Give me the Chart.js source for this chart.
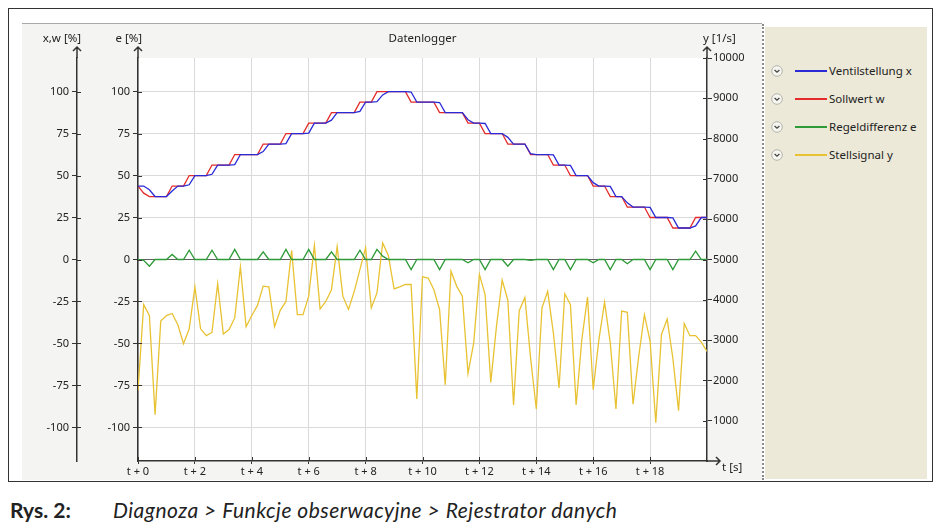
<!DOCTYPE html>
<html>
<head>
<meta charset="utf-8">
<script src="https://cdn.jsdelivr.net/npm/chart.js@4.4.1/dist/chart.umd.min.js"></script>
<style>
  body { margin:0; width:938px; height:527px; background:#fff; position:relative; overflow:hidden; font-family:"Noto Sans", sans-serif; }
  #frame { position:absolute; left:8px; top:8px; width:925px; height:474px; box-sizing:border-box; border:1px solid #333; }
  #panel { position:absolute; left:22px; top:23px; width:740px; height:457px; box-sizing:border-box; border-top:1px solid #a8a8a8; background:#f4f4f3; }
  #panel canvas { position:absolute; left:0; top:0; }
  #sep { position:absolute; left:762px; top:24px; width:0; height:456px; border-left:2px dotted #8a8a8a; }
  #legend { position:absolute; left:765px; top:27px; width:162px; height:452px; background:#ece9d8; }
  .row { position:absolute; left:0; height:16px; width:162px; }
  .row svg { position:absolute; left:6px; top:2px; }
  .row .sw { position:absolute; left:30px; top:7px; width:32px; height:2px; }
  .row .lbl { position:absolute; left:64px; top:0; font-size:11.5px; line-height:16px; color:#222; white-space:nowrap; }
  #cap1 { position:absolute; left:10px; top:497px; font-family:Lato, "Noto Sans", sans-serif; font-weight:bold; font-size:21px; color:#222; }
  #cap2 { position:absolute; left:113px; top:497px; font-family:Lato, "Noto Sans", sans-serif; font-style:italic; font-size:21px; letter-spacing:0.5px; color:#222; }
</style>
</head>
<body>
<div id="frame"></div>
<div id="panel"><canvas id="logger" width="740" height="456"></canvas></div>
<div id="sep"></div>
<div id="legend"></div>
<div id="cap1">Rys. 2:</div>
<div id="cap2">Diagnoza &gt; Funkcje obserwacyjne &gt; Rejestrator danych</div>
<script>
// logger samples every 0.2 s, t = 0 ... 20 s
var sampleStep = 0.2;

var timeTicks = [0, 2, 4, 6, 8, 10, 12, 14, 16, 18];
var percentTicks = [-100, -75, -50, -25, 0, 25, 50, 75, 100];
var speedTicks = [1000, 2000, 3000, 4000, 5000, 6000, 7000, 8000, 9000, 10000];

var ventilstellungX = [
  43.75, 43.75, 41.5, 37.5, 37.5, 37.5, 40.75, 43.75, 43.75, 44.5,
  50, 50, 50, 50.75, 56.25, 56.25, 56.25, 56.5, 62.5, 62.5,
  62.5, 62.5, 64.25, 68.75, 68.75, 68.75, 69, 75, 75, 75,
  75.25, 81.25, 81.25, 81.25, 83, 87.5, 87.5, 87.5, 87.5, 88.25,
  93.75, 93.75, 94, 98, 100, 100, 100, 100, 99.75, 93.75,
  93.75, 93.75, 93.75, 93.5, 87.5, 87.5, 87.5, 87.5, 83.25, 81.25,
  81.25, 81, 75, 75, 75, 72.75, 68.75, 68.75, 68.75, 63,
  62.5, 62.5, 62.5, 62.25, 56.25, 56.25, 56, 50, 50, 50,
  45.75, 43.75, 43.75, 43.5, 37.5, 37.5, 33.75, 31.25, 31.25, 31.25,
  31, 25, 25, 25, 24.75, 18.75, 18.75, 18.75, 20, 25,
  25
];

var sollwertW = [
  43.75, 39.5, 37.5, 37.5, 37.5, 37.5, 43.75, 43.75, 43.75, 50,
  50, 50, 50, 56.25, 56.25, 56.25, 56.25, 62.5, 62.5, 62.5,
  62.5, 62.5, 68.75, 68.75, 68.75, 68.75, 75, 75, 75, 75,
  81.25, 81.25, 81.25, 81.25, 87.5, 87.5, 87.5, 87.5, 87.5, 93.75,
  93.75, 93.75, 100, 100, 100, 100, 100, 100, 93.75, 93.75,
  93.75, 93.75, 93.75, 87.5, 87.5, 87.5, 87.5, 87.5, 81.25, 81.25,
  81.25, 75, 75, 75, 75, 68.75, 68.75, 68.75, 68.75, 62.5,
  62.5, 62.5, 62.5, 56.25, 56.25, 56.25, 50, 50, 50, 50,
  43.75, 43.75, 43.75, 37.5, 37.5, 37.5, 31.25, 31.25, 31.25, 31.25,
  25, 25, 25, 25, 18.75, 18.75, 18.75, 18.75, 25, 25,
  25
];

var regeldifferenzE = [
  0, -0.5, -4, 0, 0, 0, 3, 0, 0, 5.5,
  0, 0, 0, 5.5, 0, 0, 0, 6, 0, 0,
  0, 0, 4.5, 0, 0, 0, 6, 0, 0, 0,
  6, 0, 0, 0, 4.5, 0, 0, 0, 0, 5.5,
  0, 0, 6, 2, 0, 0, 0, 0, -6, 0,
  0, 0, 0, -6, 0, 0, 0, 0, -2, 0,
  0, -6, 0, 0, 0, -4, 0, 0, 0, -0.5,
  0, 0, 0, -6, 0, 0, -6, 0, 0, 0,
  -2, 0, 0, -6, 0, 0, -2.5, 0, 0, 0,
  -6, 0, 0, 0, -6, 0, 0, 0, 5, 0,
  0
];

var stellsignalY = [
  1750, 3880, 3610, 1150, 3470, 3610, 3660, 3380, 2910, 3280,
  4320, 3280, 3110, 3190, 4400, 3150, 3260, 3550, 4820, 3330,
  3610, 3860, 4340, 4320, 3330, 3740, 3960, 5230, 3630, 3630,
  4090, 5350, 3770, 3960, 4250, 5320, 4090, 3760, 4210, 4750,
  5290, 3800, 4170, 5410, 5100, 4270, 4320, 4380, 4380, 1540,
  4570, 4540, 4250, 3760, 1890, 4710, 4340, 4090, 2170, 2930,
  4630, 4130, 1950, 3340, 4490, 3990, 1390, 3730, 4060, 2550,
  1290, 3800, 4210, 3180, 1810, 4150, 3880, 1390, 3010, 4070,
  1770, 3010, 3940, 2930, 1290, 3720, 3690, 1410, 2600, 3630,
  2970, 950, 3140, 3520, 2550, 1250, 3410, 3110, 3110, 2950,
  2720
];

function toPoints(values) {
  return values.map(function(v, i) { return { x: i * sampleStep, y: v }; });
}

var tickFont = { family: "Noto Sans", size: 11 };

var axisDecor = {
  id: 'axisDecor',
  beforeDraw: function(chart) {
    var ctx = chart.ctx, a = chart.chartArea;
    ctx.save();
    ctx.fillStyle = '#fff';
    ctx.fillRect(a.left, a.top, a.right - a.left, a.bottom - a.top);
    ctx.restore();
  },
  afterDraw: function(chart) {
    var ctx = chart.ctx, a = chart.chartArea, sc = chart.scales;
    ctx.save();
    ctx.strokeStyle = '#333';
    ctx.lineWidth = 1.5;

    // vertical axes: extend to arrow, plus inner half of the ticks
    [['yXW', 1], ['yE', 1], ['yY', -1]].forEach(function(d) {
      var s = sc[d[0]];
      var x = d[1] > 0 ? s.right : s.left;
      ctx.beginPath();
      ctx.moveTo(x, a.top);
      ctx.lineTo(x, a.top - 11);
      ctx.moveTo(x - 4, a.top - 7);
      ctx.lineTo(x, a.top - 11);
      ctx.lineTo(x + 4, a.top - 7);
      ctx.stroke();
      ctx.beginPath();
      s.ticks.forEach(function(t) {
        var y = Math.round(s.getPixelForValue(t.value)) + 0.5;
        ctx.moveTo(x, y);
        ctx.lineTo(x + d[1] * 4, y);
      });
      ctx.lineWidth = 1;
      ctx.stroke();
      ctx.lineWidth = 1.5;
    });

    // time axis arrow
    var yb = a.bottom;
    ctx.beginPath();
    ctx.moveTo(a.right, yb);
    ctx.lineTo(a.right + 13, yb);
    ctx.moveTo(a.right + 9, yb - 4);
    ctx.lineTo(a.right + 13, yb);
    ctx.lineTo(a.right + 9, yb + 4);
    ctx.stroke();
    ctx.beginPath();
    sc.x.ticks.forEach(function(t) {
      var x = Math.round(sc.x.getPixelForValue(t.value)) + 0.5;
      ctx.moveTo(x, yb);
      ctx.lineTo(x, yb - 4);
    });
    ctx.lineWidth = 1;
    ctx.stroke();

    // titles
    ctx.fillStyle = '#222';
    ctx.font = '11.5px "Noto Sans"';
    ctx.textBaseline = 'middle';
    ctx.textAlign = 'right';
    ctx.fillText('x,w [%]', sc.yXW.right + 4, a.top - 19);
    ctx.fillText('e [%]', sc.yE.right + 4, a.top - 19);
    ctx.textAlign = 'left';
    ctx.fillText('y [1/s]', sc.yY.left - 4, a.top - 19);
    ctx.fillText('t [s]', a.right + 15, a.bottom + 7);
    ctx.textAlign = 'center';
    ctx.fillText('Datenlogger', (a.left + a.right) / 2, a.top - 19);
    ctx.restore();
  }
};

function fixedTicks(list) {
  return function(scale) {
    scale.ticks = list.map(function(v) { return { value: v }; });
  };
}

function plainLabel(v) { return String(v); }

var chart = new Chart(document.getElementById('logger'), {
  type: 'line',
  data: {
    datasets: [
      { label: 'Ventilstellung x', data: toPoints(ventilstellungX), yAxisID: 'yXW', borderColor: '#2a2ad6' },
      { label: 'Sollwert w', data: toPoints(sollwertW), yAxisID: 'yXW', borderColor: '#e42a2a' },
      { label: 'Regeldifferenz e', data: toPoints(regeldifferenzE), yAxisID: 'yE', borderColor: '#2f9a38' },
      { label: 'Stellsignal y', data: toPoints(stellsignalY), yAxisID: 'yY', borderColor: '#e8c232' }
    ]
  },
  options: {
    responsive: false,
    animation: false,
    devicePixelRatio: 1,
    layout: { padding: { top: 34, left: 0, right: 0, bottom: 0 } },
    elements: {
      line: { borderWidth: 1.3, tension: 0, fill: false },
      point: { radius: 0, hoverRadius: 0 }
    },
    plugins: { legend: { display: false }, tooltip: { enabled: false } },
    scales: {
      x: {
        type: 'linear', position: 'bottom', min: 0, max: 20,
        afterBuildTicks: fixedTicks(timeTicks),
        afterFit: function(s) { s.height = 19; },
        ticks: { font: tickFont, color: '#222', padding: 1, maxRotation: 0,
                 callback: function(v) { return 't + ' + v; } },
        grid: { color: '#dadada', tickColor: '#333', tickLength: 3 },
        border: { color: '#333', width: 1.5 }
      },
      yXW: {
        type: 'linear', position: 'left', weight: 10, min: -120, max: 120,
        afterBuildTicks: fixedTicks(percentTicks),
        afterFit: function(s) { s.width = 55; },
        ticks: { font: tickFont, color: '#222', padding: 3, callback: plainLabel },
        grid: { drawOnChartArea: false, tickColor: '#333', tickLength: 5 },
        border: { color: '#333', width: 1.5 }
      },
      yE: {
        type: 'linear', position: 'left', weight: 1, min: -120, max: 120,
        afterBuildTicks: fixedTicks(percentTicks),
        afterFit: function(s) { s.width = 61; },
        ticks: { font: tickFont, color: '#222', padding: 3, callback: plainLabel },
        grid: {
          color: function(c) { return c.tick && c.tick.value === 0 ? '#606060' : '#dadada'; },
          tickColor: '#333', tickLength: 5
        },
        border: { color: '#333', width: 1.5 }
      },
      yY: {
        type: 'linear', position: 'right', min: 0, max: 10000,
        afterBuildTicks: fixedTicks(speedTicks),
        afterFit: function(s) { s.width = 55; },
        ticks: { font: tickFont, color: '#222', padding: 1, callback: plainLabel },
        grid: { drawOnChartArea: false, tickColor: '#333', tickLength: 5 },
        border: { color: '#333', width: 1.5 }
      }
    }
  },
  plugins: [axisDecor]
});

// legend panel on the right
var legendBox = document.getElementById('legend');
chart.data.datasets.forEach(function(ds, i) {
  var row = document.createElement('div');
  row.className = 'row';
  row.style.top = (36 + i * 28) + 'px';
  row.innerHTML =
    '<svg width="12" height="12" viewBox="0 0 12 12">' +
    '<circle cx="6" cy="6" r="5.3" fill="#f6f5f0" stroke="#b4b4b0" stroke-width="1"/>' +
    '<path d="M3.6 5 L6 7.2 L8.4 5" fill="none" stroke="#444" stroke-width="1.3"/></svg>' +
    '<span class="sw" style="background:' + ds.borderColor + '"></span>' +
    '<span class="lbl">' + ds.label + '</span>';
  legendBox.appendChild(row);
});
</script>
</body>
</html>
